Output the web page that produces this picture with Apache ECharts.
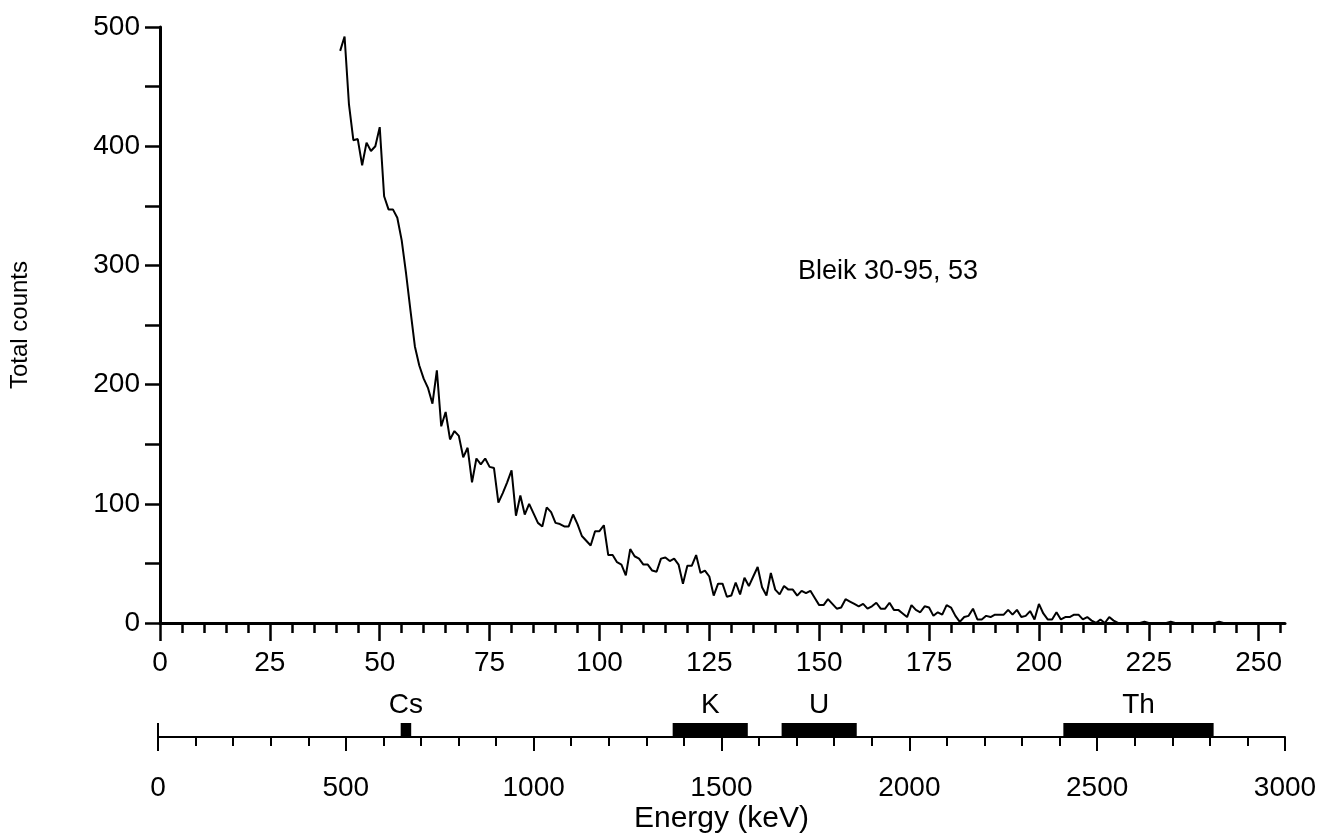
<!DOCTYPE html>
<html>
<head>
<meta charset="utf-8">
<script src="https://cdn.jsdelivr.net/npm/echarts@6/dist/echarts.min.js"></script>
<style>
html,body{margin:0;padding:0;background:#fff;}
#chart{width:1332px;height:837px;}
</style>
</head>
<body>
<div id="chart"></div>
<script>
// ---- data ----
const startChannel = 41;
const counts = [
  480, 492, 435, 405, 406, 384, 403, 396, 400, 416, // 41-50
  358, 347, 347, 340, 321, 293, 262, 232, 216, 205, // 51-60
  197, 184, 212, 165, 177, 154, 161, 157, 139, 147, // 61-70
  118, 138, 133, 138, 131, 130, 101, 109, 118, 128, // 71-80
  90, 107, 91, 100, 92, 84, 81, 97, 93, 84,         // 81-90
  83, 81, 81, 91, 83, 73, 69, 65, 77, 77,           // 91-100
  82, 57, 57, 51, 49, 40, 62, 56, 54, 49,           // 101-110
  49, 44, 43, 54, 55, 52, 54, 49, 33, 48,           // 111-120
  48, 57, 42, 44, 39, 23, 33, 33, 22, 23,           // 121-130
  34, 24, 38, 31, 39, 47, 30, 23, 42, 28,           // 131-140
  24, 31, 28, 28, 23, 27, 25, 27, 21, 15,           // 141-150
  15, 20, 16, 12, 13, 20, 18, 16, 14, 16,           // 151-160
  12, 14, 17, 12, 12, 17, 11, 11, 8, 5,             // 161-170
  15, 11, 9, 14, 13, 6, 9, 7, 15, 13,               // 171-180
  6, 1, 5, 6, 12, 3, 3, 6, 5, 7,                    // 181-190
  7, 7, 11, 7, 11, 5, 6, 10, 3, 16,                 // 191-200
  8, 3, 3, 9, 3, 5, 5, 7, 7, 3,                     // 201-210
  5, 2, 0, 3, 0, 5, 2, 0, 0, 0,                     // 211-220
  0, 0, 0, 1, 0, 0, 0, 0, 0, 1,                     // 221-230
  0, 0, 0, 0, 0, 0, 0, 0, 0, 0,                     // 231-240
  1, 0, 0, 0, 0, 0, 0, 0, 0, 0,                     // 241-250
  0, 0, 0, 0, 0                                     // 251-255
];
const channelMajorTicks = [0, 25, 50, 75, 100, 125, 150, 175, 200, 225, 250];
const channelMinorTicks = [5,10,15,20,30,35,40,45,55,60,65,70,80,85,90,95,105,110,115,120,
  130,135,140,145,155,160,165,170,180,185,190,195,205,210,215,220,230,235,240,245,255];
const windowNames = ['Cs', 'K', 'U', 'Th'];
const windowStart = [646, 1370, 1660, 2410];
const windowEnd   = [674, 1570, 1860, 2810];
const sampleLabel = 'Bleik 30-95, 53';

// ---- chart ----
const FF = "'Liberation Sans', Arial, sans-serif";
const spectrum = counts.map((v, i) => [startChannel + i, v]);
const windows = windowNames.map((n, i) => [windowStart[i], windowEnd[i], n]);

const chart = echarts.init(document.getElementById('chart'), null, {renderer: 'canvas'});
const black = '#000';
const plain = v => String(v);
chart.setOption({
  backgroundColor: '#fff',
  animation: false,
  textStyle: {fontFamily: FF, color: black},
  title: {
    text: sampleLabel, left: 793, top: 253,
    textStyle: {fontFamily: FF, fontSize: 27, fontWeight: 'normal', color: black}
  },
  grid: [
    {left: 158, top: 27, width: 1127, height: 596},
    {left: 158, top: 723, width: 1127, height: 14}
  ],
  xAxis: [
    {
      gridIndex: 0, type: 'value', min: 0, max: 256,
      axisLine: {lineStyle: {color: black, width: 3}},
      axisTick: {customValues: channelMajorTicks, length: 18, lineStyle: {color: black, width: 2.5}},
      axisLabel: {customValues: channelMajorTicks, margin: 26, fontSize: 28, color: black, fontFamily: FF, formatter: plain},
      splitLine: {show: false}
    },
    {
      gridIndex: 0, type: 'value', min: 0, max: 256, position: 'bottom', offset: 0,
      axisLine: {show: false},
      axisTick: {customValues: channelMinorTicks, length: 10, lineStyle: {color: black, width: 2.5}},
      axisLabel: {show: false},
      splitLine: {show: false}
    },
    {
      gridIndex: 1, type: 'value', min: 0, max: 3000, interval: 500,
      axisLine: {lineStyle: {color: black, width: 2}},
      axisTick: {length: 14, lineStyle: {color: black, width: 2}},
      minorTick: {show: true, splitNumber: 5, length: 9, lineStyle: {color: black, width: 2}},
      axisLabel: {margin: 37, fontSize: 28, color: black, fontFamily: FF, formatter: plain},
      splitLine: {show: false},
      name: 'Energy (keV)', nameLocation: 'middle', nameGap: 67,
      nameTextStyle: {fontSize: 30, color: black, fontFamily: FF}
    }
  ],
  yAxis: [
    {
      gridIndex: 0, type: 'value', min: 0, max: 500, interval: 100,
      axisLine: {show: true, lineStyle: {color: black, width: 3}},
      axisTick: {show: true, length: 15, lineStyle: {color: black, width: 2.5}},
      minorTick: {show: true, splitNumber: 2, length: 15, lineStyle: {color: black, width: 2.5}},
      axisLabel: {margin: 20, fontSize: 28, color: black, fontFamily: FF, formatter: plain},
      splitLine: {show: false},
      name: 'Total counts', nameLocation: 'middle', nameRotate: 90, nameGap: 128,
      nameTextStyle: {fontSize: 24, color: black, fontFamily: FF}
    },
    {
      gridIndex: 1, type: 'value', min: 0, max: 1, show: false
    }
  ],
  series: [
    {
      type: 'line', xAxisIndex: 0, yAxisIndex: 0, data: spectrum,
      symbol: 'none', lineStyle: {color: black, width: 2}, silent: true
    },
    {
      type: 'custom', xAxisIndex: 2, yAxisIndex: 1, data: windows, silent: true,
      renderItem: function (params, api) {
        const p0 = api.coord([api.value(0), 0]);
        const p1 = api.coord([api.value(1), 1]);
        const name = windowNames[params.dataIndex];
        return {
          type: 'group',
          children: [
            {type: 'rect', shape: {x: p0[0], y: p1[1], width: p1[0] - p0[0], height: p0[1] - p1[1]},
             style: {fill: black}},
            {type: 'text', x: (p0[0] + p1[0]) / 2, y: p1[1] - 4,
             style: {text: name, fill: black, font: '28px ' + FF, align: 'center', verticalAlign: 'bottom'}}
          ]
        };
      },
      markLine: {
        silent: true, symbol: 'none', label: {show: false},
        lineStyle: {color: black, width: 2, type: 'solid'},
        data: [{xAxis: 0}]
      }
    }
  ]
});
</script>
</body>
</html>
